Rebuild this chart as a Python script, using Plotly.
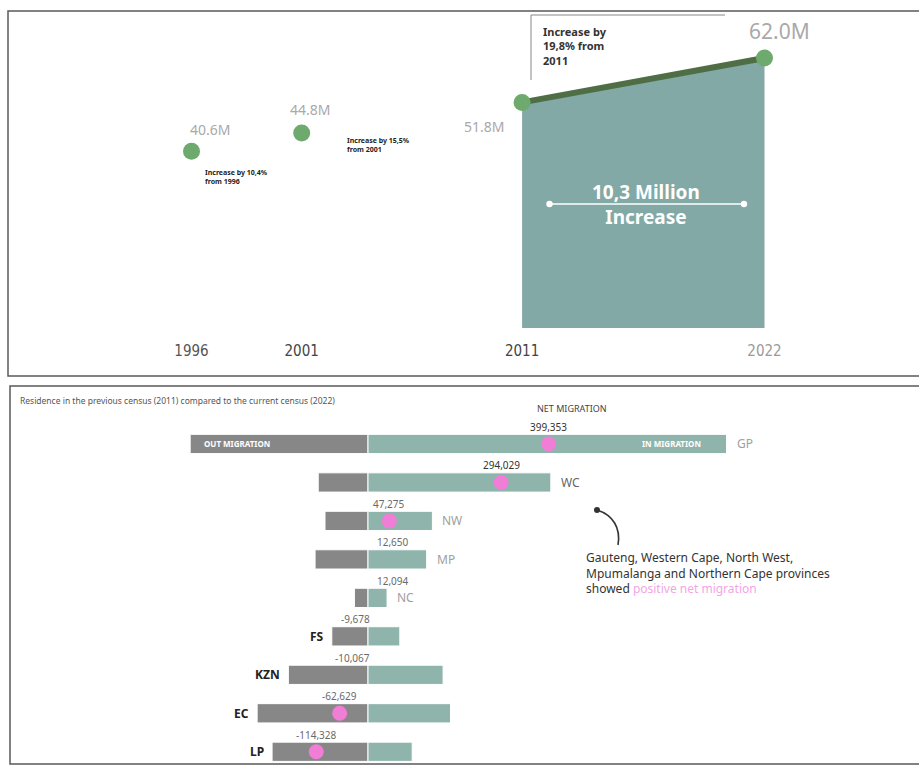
import plotly.graph_objects as go

# ---------------- data ----------------
YEARS = [1996, 2001, 2011, 2022]
POPULATION_M = [40.6, 44.8, 51.8, 62.0]
POP_LABELS = ["40.6M", "44.8M", "51.8M", "62.0M"]
YEAR_TICKS = ["1996", "2001", "2011", "2022"]
GROWTH_NOTES = ["Increase by 10,4%<br>from 1996",
                "Increase by 15,5%<br>from 2001",
                "Increase by<br>19,8% from<br>2011"]
INCREASE_LABEL = "10,3 Million<br>Increase"

PROVINCES = ["GP", "WC", "NW", "MP", "NC", "FS", "KZN", "EC", "LP"]
NET_MIGRATION = [399353, 294029, 47275, 12650, 12094, -9678, -10067, -62629, -114328]
OUT_MIGRATION = [393000, 110000, 95000, 117000, 30000, 80000, 176000, 245000, 212000]
IN_MIGRATION = [792353, 404029, 142275, 129650, 42094, 70322, 165933, 182371, 97672]
DOT_PROVINCES = ["GP", "WC", "NW", "EC", "LP"]
PANEL_TITLE = "Residence in the previous census (2011) compared to the current census (2022)"
NOTE_TEXT = ("Gauteng, Western Cape, North West,<br>Mpumalanga and Northern Cape provinces<br>"
             "showed <span style='color:#f2a6e4'>positive net migration</span>")

# ---------------- helpers ----------------
W, H = 919, 771
def px(x):
    return x / W
def py(y):
    return 1 - y / H

FONT = "Noto Sans"
fig = go.Figure()

# top panel: population
fig.add_trace(go.Scatter(
    x=YEARS[2:], y=POPULATION_M[2:], mode="lines", fill="tozeroy",
    fillcolor="#82a9a5", line=dict(color="#4f6e45", width=6),
    xaxis="x", yaxis="y", hoverinfo="skip", showlegend=False))
fig.add_trace(go.Scatter(
    x=YEARS, y=POPULATION_M, mode="markers",
    marker=dict(size=17, color="#6eaa6e"),
    xaxis="x", yaxis="y", showlegend=False))

label_offsets = [(18, 22, 14), (8, 23, 14), (-38, -24, 14), (15, 27, 21)]
annotations = []
for yr, val, lab, (dx, dy, fs) in zip(YEARS, POPULATION_M, POP_LABELS, label_offsets):
    annotations.append(dict(x=yr, y=val, xref="x", yref="y", text=lab, showarrow=False,
                            xshift=dx, yshift=dy, font=dict(size=fs, color="#a9a9a9", family=FONT)))

# growth notes
annotations.append(dict(x=px(203), y=py(166), xref="paper", yref="paper", text="<b>" + GROWTH_NOTES[0] + "</b>",
                        showarrow=False, xanchor="left", yanchor="top", align="left",
                        font=dict(size=7, color="#222", family=FONT)))
annotations.append(dict(x=px(345), y=py(134), xref="paper", yref="paper", text="<b>" + GROWTH_NOTES[1] + "</b>",
                        showarrow=False, xanchor="left", yanchor="top", align="left",
                        font=dict(size=7, color="#222", family=FONT)))
annotations.append(dict(x=px(541), y=py(22), xref="paper", yref="paper", text="<b>" + GROWTH_NOTES[2] + "</b>",
                        showarrow=False, xanchor="left", yanchor="top", align="left",
                        font=dict(size=11, color="#333", family=FONT)))
annotations.append(dict(x=px(646), y=py(205), xref="paper", yref="paper", text="<b>" + INCREASE_LABEL + "</b>",
                        showarrow=False, xanchor="center", yanchor="middle", align="center",
                        font=dict(size=19, color="white", family=FONT)))
# double arrow
annotations.append(dict(x=px(744), y=py(204), xref="paper", yref="paper", text="", showarrow=True,
                        ax=-196, ay=0, axref="pixel", ayref="pixel", arrowside="end+start",
                        arrowhead=6, arrowsize=1, arrowwidth=1.6, arrowcolor="white"))

# bottom panel: migration
fig.add_trace(go.Bar(
    y=PROVINCES, x=[-v for v in OUT_MIGRATION], orientation="h", width=0.5,
    marker=dict(color="#878787", line=dict(color="white", width=1)),
    xaxis="x2", yaxis="y2", showlegend=False, name="Out migration"))
fig.add_trace(go.Bar(
    y=PROVINCES, x=IN_MIGRATION, orientation="h", width=0.5,
    marker=dict(color="#8fb4ac", line=dict(color="white", width=1)),
    xaxis="x2", yaxis="y2", showlegend=False, name="In migration"))
dot_net = [n for p, n in zip(PROVINCES, NET_MIGRATION) if p in DOT_PROVINCES]
fig.add_trace(go.Scatter(
    y=DOT_PROVINCES, x=dot_net, mode="markers",
    marker=dict(size=15, color="#f07ed6"),
    xaxis="x2", yaxis="y2", showlegend=False))

SCALE = 2210  # people per pixel
small = 20 * SCALE
for i, (p, n, o, inn) in enumerate(zip(PROVINCES, NET_MIGRATION, OUT_MIGRATION, IN_MIGRATION)):
    col = "#333" if i < 2 else "#6a6a6a"
    if abs(n) < small:
        if n >= 0:
            ann = dict(x=0, xanchor="left", xshift=7)
        else:
            ann = dict(x=0, xanchor="right", xshift=4)
    else:
        ann = dict(x=n, xanchor="center", xshift=0)
    ann.update(y=p, xref="x2", yref="y2", text=f"{n:,}", showarrow=False, yshift=17,
               font=dict(size=10, color=col, family=FONT))
    annotations.append(ann)
    if n >= 0:
        annotations.append(dict(x=inn, y=p, xref="x2", yref="y2", text=p, showarrow=False,
                                xanchor="left", xshift=8,
                                font=dict(size=12, color="#666" if p == "WC" else "#a0a0a0", family=FONT)))
    else:
        annotations.append(dict(x=-o, y=p, xref="x2", yref="y2", text="<b>" + p + "</b>", showarrow=False,
                                xanchor="right", xshift=-6,
                                font=dict(size=12, color="#222", family=FONT)))

annotations.append(dict(x=-OUT_MIGRATION[0], y="GP", xref="x2", yref="y2", text="<b>OUT MIGRATION</b>",
                        showarrow=False, xanchor="left", xshift=12,
                        font=dict(size=8, color="white", family=FONT)))
annotations.append(dict(x=IN_MIGRATION[0], y="GP", xref="x2", yref="y2", text="<b>IN MIGRATION</b>",
                        showarrow=False, xanchor="right", xshift=-24,
                        font=dict(size=8, color="white", family=FONT)))
annotations.append(dict(x=px(572), y=py(408), xref="paper", yref="paper", text="NET MIGRATION",
                        showarrow=False, xanchor="center", yanchor="middle",
                        font=dict(size=9, color="#444", family=FONT)))
annotations.append(dict(x=px(18), y=py(400), xref="paper", yref="paper", text=PANEL_TITLE,
                        showarrow=False, xanchor="left", yanchor="middle",
                        font=dict(size=8.5, color="#555", family=FONT)))
annotations.append(dict(x=px(584), y=py(547), xref="paper", yref="paper", text=NOTE_TEXT,
                        showarrow=False, xanchor="left", yanchor="top", align="left",
                        font=dict(size=12, color="#333", family=FONT)))

shapes = [
    dict(type="rect", xref="paper", yref="paper", x0=px(8), x1=px(935), y0=py(376), y1=py(11),
         line=dict(color="#5a5a5a", width=1.5)),
    dict(type="rect", xref="paper", yref="paper", x0=px(10), x1=px(935), y0=py(764), y1=py(386),
         line=dict(color="#5a5a5a", width=1.5)),
    # bracket of the 2011-2022 note
    dict(type="line", xref="paper", yref="paper", x0=px(531), x1=px(725), y0=py(15), y1=py(15),
         line=dict(color="#888", width=1)),
    dict(type="line", xref="paper", yref="paper", x0=px(531), x1=px(531), y0=py(15), y1=py(80),
         line=dict(color="#888", width=1)),
    # connector curve
    dict(type="path", xref="paper", yref="paper",
         path=f"M {px(597)},{py(510)} C {px(613)},{py(515)} {px(621)},{py(528)} {px(618)},{py(545)}",
         line=dict(color="#333", width=1.6)),
    dict(type="circle", xref="paper", yref="paper", x0=px(594), x1=px(600), y0=py(513), y1=py(507),
         fillcolor="#333", line=dict(width=0)),
]

tick_colors = ["#555", "#444", "#444", "#9a9a9a"]
ticktext = [f"<span style='color:{c}'>{t}</span>" for t, c in zip(YEAR_TICKS, tick_colors)]

fig.update_layout(
    width=W, height=H, margin=dict(l=0, r=0, t=0, b=0),
    paper_bgcolor="white", plot_bgcolor="rgba(0,0,0,0)",
    font=dict(family=FONT),
    barmode="relative", bargap=0.5,
    xaxis=dict(domain=[0, 1], range=[1987.31, 2029.01], anchor="y",
               tickvals=YEARS, ticktext=ticktext, showgrid=False, zeroline=False,
               showline=False, ticks="", tickfont=dict(size=15, family="DejaVu Sans Condensed, Noto Sans")),
    yaxis=dict(domain=[py(340), py(11)], range=[-2.76, 72.79], visible=False),
    xaxis2=dict(domain=[0, 1], range=[-368 * SCALE, 551 * SCALE], anchor="y2", visible=False),
    yaxis2=dict(domain=[0, py(424.75)], type="category", categoryorder="array",
                categoryarray=PROVINCES, range=[8.5, -0.5], visible=False),
    annotations=annotations, shapes=shapes,
)

fig.write_html("out.html")
